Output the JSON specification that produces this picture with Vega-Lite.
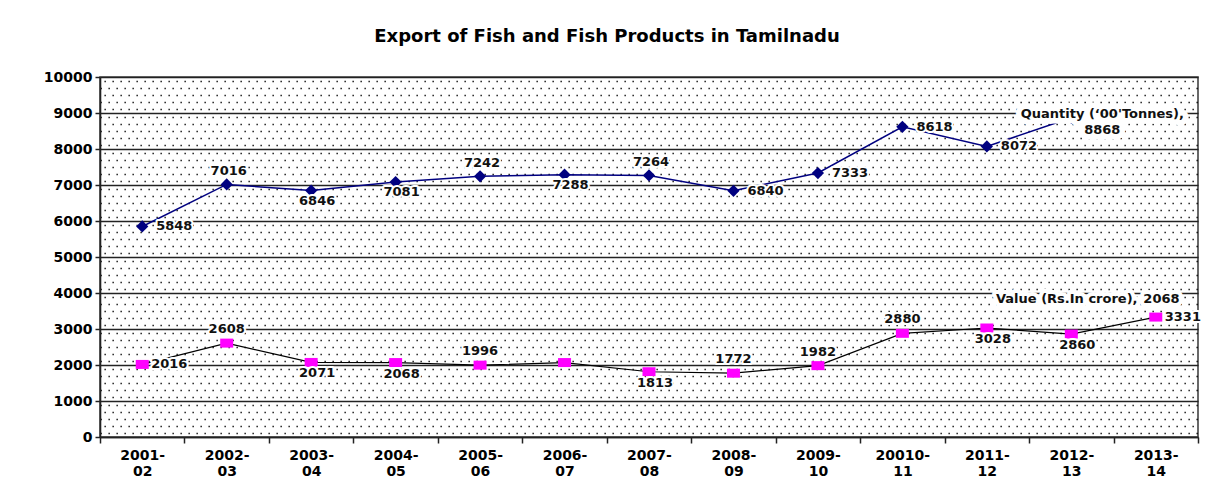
{
  "$schema": "https://vega.github.io/schema/vega-lite/v6.json",
  "width": 1098,
  "height": 360,
  "autosize": "none",
  "padding": {"left": 100, "top": 77, "right": 10, "bottom": 49},
  "background": "white",
  "title": {"text": "Export of Fish and Fish Products in Tamilnadu", "font": "DejaVu Sans", "fontSize": 18, "fontWeight": "bold", "color": "#000", "anchor": "middle", "offset": 24, "dx": -42},
  "config": {"view": {"stroke": "#444", "strokeWidth": 1.6}, "font": "DejaVu Sans"},
  "data": {"values": [
    {"Year": "2001-02", "Series": "Quantity", "Amount": 5848},
    {"Year": "2002-03", "Series": "Quantity", "Amount": 7016},
    {"Year": "2003-04", "Series": "Quantity", "Amount": 6846},
    {"Year": "2004-05", "Series": "Quantity", "Amount": 7081},
    {"Year": "2005-06", "Series": "Quantity", "Amount": 7242},
    {"Year": "2006-07", "Series": "Quantity", "Amount": 7288},
    {"Year": "2007-08", "Series": "Quantity", "Amount": 7264},
    {"Year": "2008-09", "Series": "Quantity", "Amount": 6840},
    {"Year": "2009-10", "Series": "Quantity", "Amount": 7333},
    {"Year": "20010-11", "Series": "Quantity", "Amount": 8618},
    {"Year": "2011-12", "Series": "Quantity", "Amount": 8072},
    {"Year": "2012-13", "Series": "Quantity", "Amount": 8868},
    {"Year": "2001-02", "Series": "Value", "Amount": 2016},
    {"Year": "2002-03", "Series": "Value", "Amount": 2608},
    {"Year": "2003-04", "Series": "Value", "Amount": 2071},
    {"Year": "2004-05", "Series": "Value", "Amount": 2068},
    {"Year": "2005-06", "Series": "Value", "Amount": 1996},
    {"Year": "2006-07", "Series": "Value", "Amount": 2068},
    {"Year": "2007-08", "Series": "Value", "Amount": 1813},
    {"Year": "2008-09", "Series": "Value", "Amount": 1772},
    {"Year": "2009-10", "Series": "Value", "Amount": 1982},
    {"Year": "20010-11", "Series": "Value", "Amount": 2880},
    {"Year": "2011-12", "Series": "Value", "Amount": 3028},
    {"Year": "2012-13", "Series": "Value", "Amount": 2860},
    {"Year": "2013-14", "Series": "Value", "Amount": 3331}
  ]},
  "encoding": {
    "x": {"field": "Year", "type": "nominal", "sort": null,
      "scale": {"type": "band", "paddingInner": 0, "paddingOuter": 0, "domain": ["2001-02","2002-03","2003-04","2004-05","2005-06","2006-07","2007-08","2008-09","2009-10","20010-11","2011-12","2012-13","2013-14"]},
      "axis": {"title": null, "labelAngle": 0, "labelFont": "DejaVu Sans", "labelFontWeight": "bold", "labelFontSize": 14, "labelColor": "#000",
        "labelExpr": "datum.label ? [split(datum.label,'-')[0] + '-', split(datum.label,'-')[1]] : ''",
        "labelLineHeight": 16, "labelPadding": 5, "labelBaseline": "top", "tickBand": "extent", "tickSize": 6, "tickColor": "#222", "tickWidth": 1.5,
        "domainColor": "#222", "domainWidth": 1.6, "grid": false, "labelOverlap": false}},
    "y": {"field": "Amount", "type": "quantitative",
      "scale": {"domain": [0, 10000], "nice": false, "zero": true},
      "axis": {"title": null, "format": "d",
        "values": [0,100,300,500,700,900,1000,1100,1300,1500,1700,1900,2000,2100,2300,2500,2700,2900,3000,3100,3300,3500,3700,3900,4000,4100,4300,4500,4700,4900,5000,5100,5300,5500,5700,5900,6000,6100,6300,6500,6700,6900,7000,7100,7300,7500,7700,7900,8000,8100,8300,8500,8700,8900,9000,9100,9300,9500,9700,9900,10000],
        "labelExpr": "datum.value % 1000 == 0 ? datum.label : ''",
        "labelFont": "DejaVu Sans", "labelFontWeight": "bold", "labelFontSize": 14, "labelColor": "#000", "labelOverlap": false, "labelPadding": 3,
        "tickSize": 5, "tickWidth": 1.5,
        "tickColor": {"condition": {"test": "datum.value % 1000 == 0", "value": "#222"}, "value": "transparent"},
        "grid": true,
        "gridColor": {"condition": {"test": "datum.value % 1000 == 0", "value": "#222"}, "value": "#000"},
        "gridWidth": {"condition": {"test": "datum.value % 1000 == 0", "value": 1.7}, "value": 1.3},
        "gridDash": {"condition": {"test": "datum.value % 1000 == 0", "value": [1, 0]}, "value": [1.3, 6.7]},
        "gridDashOffset": {"condition": {"test": "(datum.value - 100) % 400 == 0", "value": 0}, "value": 4},
        "domainColor": "#222", "domainWidth": 1.6}}
  },
  "layer": [
    {"transform": [{"filter": "datum.Series == 'Quantity'"}], "mark": {"type": "line", "color": "#000080", "strokeWidth": 1.5}},
    {"transform": [{"filter": "datum.Series == 'Value'"}], "mark": {"type": "line", "color": "#000", "strokeWidth": 1.2}},
    {"transform": [{"filter": "datum.Series == 'Quantity'"}], "mark": {"type": "point", "shape": "diamond", "filled": true, "color": "#000080", "size": 150, "opacity": 1}},
    {"transform": [{"filter": "datum.Series == 'Value'"}], "mark": {"type": "point", "shape": "M-1.3,-0.9H1.3V0.9H-1.3Z", "filled": true, "color": "#FF00FF", "size": 100, "opacity": 1}},

    {"transform": [{"filter": "(datum.Series == 'Quantity' && indexof(['2001-02','2008-09','2009-10','20010-11','2011-12'], datum.Year) >= 0)"}],
     "mark": {"type": "text", "align": "left", "baseline": "middle", "dx": 14, "font": "DejaVu Sans", "fontSize": 13, "fontWeight": "bold", "fill": "white", "stroke": "white", "strokeWidth": 4, "strokeJoin": "round"},
     "encoding": {"text": {"field": "Amount", "type": "quantitative", "format": "d"}}},
    {"transform": [{"filter": "(datum.Series == 'Quantity' && indexof(['2001-02','2008-09','2009-10','20010-11','2011-12'], datum.Year) >= 0)"}],
     "mark": {"type": "text", "align": "left", "baseline": "middle", "dx": 14, "font": "DejaVu Sans", "fontSize": 13, "fontWeight": "bold", "fill": "#111"},
     "encoding": {"text": {"field": "Amount", "type": "quantitative", "format": "d"}}},

    {"transform": [{"filter": "(datum.Series == 'Value' && indexof(['2001-02','2013-14'], datum.Year) >= 0)"}],
     "mark": {"type": "text", "align": "left", "baseline": "middle", "dx": 9, "font": "DejaVu Sans", "fontSize": 13, "fontWeight": "bold", "fill": "white", "stroke": "white", "strokeWidth": 4, "strokeJoin": "round"},
     "encoding": {"text": {"field": "Amount", "type": "quantitative", "format": "d"}}},
    {"transform": [{"filter": "(datum.Series == 'Value' && indexof(['2001-02','2013-14'], datum.Year) >= 0)"}],
     "mark": {"type": "text", "align": "left", "baseline": "middle", "dx": 9, "font": "DejaVu Sans", "fontSize": 13, "fontWeight": "bold", "fill": "#111"},
     "encoding": {"text": {"field": "Amount", "type": "quantitative", "format": "d"}}},

    {"transform": [{"filter": "(datum.Series == 'Quantity' && indexof(['2002-03','2005-06','2007-08'], datum.Year) >= 0)"}],
     "mark": {"type": "text", "align": "center", "baseline": "middle", "dx": 2, "dy": -13, "font": "DejaVu Sans", "fontSize": 13, "fontWeight": "bold", "fill": "white", "stroke": "white", "strokeWidth": 4, "strokeJoin": "round"},
     "encoding": {"text": {"field": "Amount", "type": "quantitative", "format": "d"}}},
    {"transform": [{"filter": "(datum.Series == 'Quantity' && indexof(['2002-03','2005-06','2007-08'], datum.Year) >= 0)"}],
     "mark": {"type": "text", "align": "center", "baseline": "middle", "dx": 2, "dy": -13, "font": "DejaVu Sans", "fontSize": 13, "fontWeight": "bold", "fill": "#111"},
     "encoding": {"text": {"field": "Amount", "type": "quantitative", "format": "d"}}},

    {"transform": [{"filter": "(datum.Series == 'Value' && indexof(['2002-03','2005-06','2008-09','2009-10','20010-11'], datum.Year) >= 0)"}],
     "mark": {"type": "text", "align": "center", "baseline": "middle", "dx": 0, "dy": -14, "font": "DejaVu Sans", "fontSize": 13, "fontWeight": "bold", "fill": "white", "stroke": "white", "strokeWidth": 4, "strokeJoin": "round"},
     "encoding": {"text": {"field": "Amount", "type": "quantitative", "format": "d"}}},
    {"transform": [{"filter": "(datum.Series == 'Value' && indexof(['2002-03','2005-06','2008-09','2009-10','20010-11'], datum.Year) >= 0)"}],
     "mark": {"type": "text", "align": "center", "baseline": "middle", "dx": 0, "dy": -14, "font": "DejaVu Sans", "fontSize": 13, "fontWeight": "bold", "fill": "#111"},
     "encoding": {"text": {"field": "Amount", "type": "quantitative", "format": "d"}}},

    {"transform": [{"filter": "(datum.Series == 'Quantity' && indexof(['2003-04','2004-05','2006-07'], datum.Year) >= 0)"}],
     "mark": {"type": "text", "align": "center", "baseline": "middle", "dx": 6, "dy": 10, "font": "DejaVu Sans", "fontSize": 13, "fontWeight": "bold", "fill": "white", "stroke": "white", "strokeWidth": 4, "strokeJoin": "round"},
     "encoding": {"text": {"field": "Amount", "type": "quantitative", "format": "d"}}},
    {"transform": [{"filter": "(datum.Series == 'Quantity' && indexof(['2003-04','2004-05','2006-07'], datum.Year) >= 0)"}],
     "mark": {"type": "text", "align": "center", "baseline": "middle", "dx": 6, "dy": 10, "font": "DejaVu Sans", "fontSize": 13, "fontWeight": "bold", "fill": "#111"},
     "encoding": {"text": {"field": "Amount", "type": "quantitative", "format": "d"}}},

    {"transform": [{"filter": "(datum.Series == 'Value' && indexof(['2003-04','2004-05','2007-08','2011-12','2012-13'], datum.Year) >= 0)"}],
     "mark": {"type": "text", "align": "center", "baseline": "middle", "dx": 6, "dy": 11, "font": "DejaVu Sans", "fontSize": 13, "fontWeight": "bold", "fill": "white", "stroke": "white", "strokeWidth": 4, "strokeJoin": "round"},
     "encoding": {"text": {"field": "Amount", "type": "quantitative", "format": "d"}}},
    {"transform": [{"filter": "(datum.Series == 'Value' && indexof(['2003-04','2004-05','2007-08','2011-12','2012-13'], datum.Year) >= 0)"}],
     "mark": {"type": "text", "align": "center", "baseline": "middle", "dx": 6, "dy": 11, "font": "DejaVu Sans", "fontSize": 13, "fontWeight": "bold", "fill": "#111"},
     "encoding": {"text": {"field": "Amount", "type": "quantitative", "format": "d"}}},

    {"transform": [{"filter": "datum.Series == 'Quantity' && datum.Year == '2012-13'"}],
     "mark": {"type": "text", "text": "Quantity (‘00'Tonnes),", "align": "center", "baseline": "middle", "dx": 31, "dy": -4, "font": "DejaVu Sans", "fontSize": 13, "fontWeight": "bold", "fill": "white", "stroke": "white", "strokeWidth": 11, "strokeJoin": "round"}},
    {"transform": [{"filter": "datum.Series == 'Quantity' && datum.Year == '2012-13'"}],
     "mark": {"type": "text", "align": "center", "baseline": "middle", "dx": 31, "dy": 12, "font": "DejaVu Sans", "fontSize": 13, "fontWeight": "bold", "fill": "white", "stroke": "white", "strokeWidth": 11, "strokeJoin": "round"},
     "encoding": {"text": {"field": "Amount", "type": "quantitative", "format": "d"}}},
    {"transform": [{"filter": "datum.Series == 'Quantity' && datum.Year == '2012-13'"}],
     "mark": {"type": "text", "text": "Quantity (‘00'Tonnes),", "align": "center", "baseline": "middle", "dx": 31, "dy": -4, "font": "DejaVu Sans", "fontSize": 13, "fontWeight": "bold", "fill": "#111"}},
    {"transform": [{"filter": "datum.Series == 'Quantity' && datum.Year == '2012-13'"}],
     "mark": {"type": "text", "align": "center", "baseline": "middle", "dx": 31, "dy": 12, "font": "DejaVu Sans", "fontSize": 13, "fontWeight": "bold", "fill": "#111"},
     "encoding": {"text": {"field": "Amount", "type": "quantitative", "format": "d"}}},

    {"transform": [{"filter": "datum.Series == 'Value' && datum.Year == '2006-07'"}],
     "mark": {"type": "text", "text": "Value (Rs.In crore),", "align": "right", "baseline": "middle", "dx": 573, "dy": -64, "font": "DejaVu Sans", "fontSize": 13, "fontWeight": "bold", "fill": "white", "stroke": "white", "strokeWidth": 8, "strokeJoin": "round"}},
    {"transform": [{"filter": "datum.Series == 'Value' && datum.Year == '2006-07'"}],
     "mark": {"type": "text", "align": "right", "baseline": "middle", "dx": 615, "dy": -64, "font": "DejaVu Sans", "fontSize": 13, "fontWeight": "bold", "fill": "white", "stroke": "white", "strokeWidth": 8, "strokeJoin": "round"},
     "encoding": {"text": {"field": "Amount", "type": "quantitative", "format": "d"}}},
    {"transform": [{"filter": "datum.Series == 'Value' && datum.Year == '2006-07'"}],
     "mark": {"type": "text", "text": "Value (Rs.In crore),", "align": "right", "baseline": "middle", "dx": 573, "dy": -64, "font": "DejaVu Sans", "fontSize": 13, "fontWeight": "bold", "fill": "#111"}},
    {"transform": [{"filter": "datum.Series == 'Value' && datum.Year == '2006-07'"}],
     "mark": {"type": "text", "align": "right", "baseline": "middle", "dx": 615, "dy": -64, "font": "DejaVu Sans", "fontSize": 13, "fontWeight": "bold", "fill": "#111"},
     "encoding": {"text": {"field": "Amount", "type": "quantitative", "format": "d"}}}
  ]
}
